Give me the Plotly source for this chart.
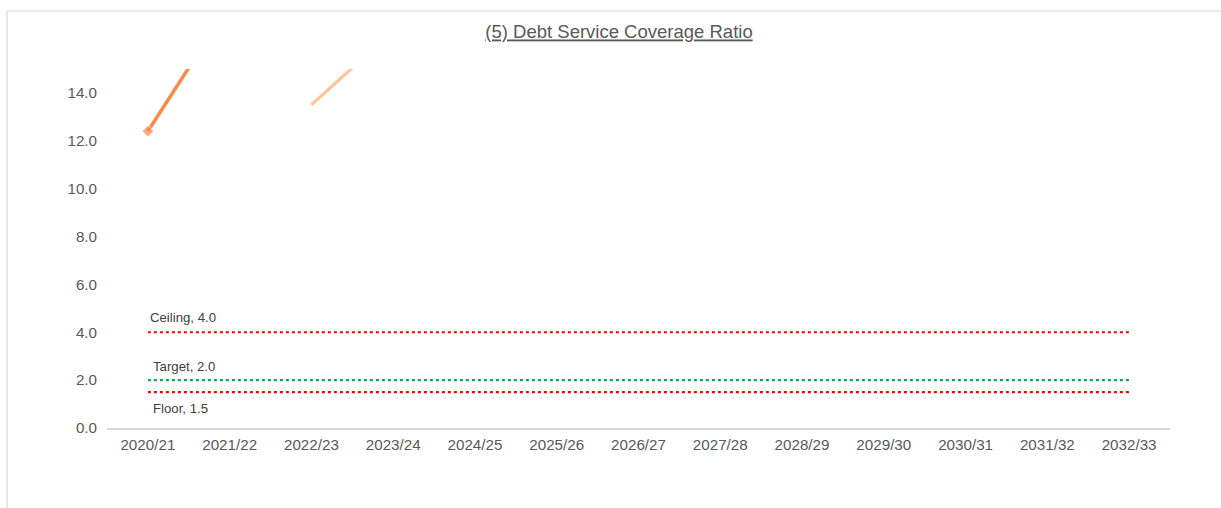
import plotly.graph_objects as go

years = ["2020/21", "2021/22", "2022/23", "2023/24", "2024/25", "2025/26", "2026/27",
         "2027/28", "2028/29", "2029/30", "2030/31", "2031/32", "2032/33"]
dscr_actual = [12.4, 17.7, None, None, None, None, None, None, None, None, None, None, None]
dscr_forecast = [None, None, 13.5, 16.6, None, None, None, None, None, None, None, None, None]
ceiling = [4.0] * len(years)
target = [2.0] * len(years)
floor = [1.5] * len(years)

W, H = 1221, 508
L, R, T, B = 107, 51, 69, 80
pw, ph = W - L - R, H - T - B

fig = go.Figure()
fig.add_trace(go.Scatter(x=years, y=ceiling, mode="lines", line=dict(color="#FF0000", width=2.2, dash="dot"), hoverinfo="skip"))
fig.add_trace(go.Scatter(x=years, y=target, mode="lines", line=dict(color="#00B050", width=2.2, dash="dot"), hoverinfo="skip"))
fig.add_trace(go.Scatter(x=years, y=floor, mode="lines", line=dict(color="#FF0000", width=2.2, dash="dot"), hoverinfo="skip"))
fig.add_trace(go.Scatter(x=years, y=dscr_forecast, mode="lines", line=dict(color="#FDC593", width=3.2), connectgaps=False))
fig.add_trace(go.Scatter(x=years, y=dscr_actual, mode="lines+markers", line=dict(color="#F68A4A", width=3.5),
                         marker=dict(symbol="diamond", size=[9] + [0] * (len(years) - 1), color="#F68A4A"),
                         connectgaps=False, cliponaxis=True))

lab_font = dict(family="Liberation Sans, Arial, sans-serif", size=13.2, color="#404040")
fig.add_annotation(x=years[0], y=ceiling[0], text="Ceiling, 4.0", showarrow=False, xanchor="left", yanchor="middle",
                   xshift=0, yshift=15, font=lab_font)
fig.add_annotation(x=years[0], y=target[0], text="Target, 2.0", showarrow=False, xanchor="left", yanchor="middle",
                   xshift=3, yshift=14, font=lab_font)
fig.add_annotation(x=years[0], y=floor[0], text="Floor, 1.5", showarrow=False, xanchor="left", yanchor="middle",
                   xshift=3, yshift=-16, font=lab_font)

# outer border
fig.add_shape(type="rect", xref="paper", yref="paper",
              x0=(7 - L) / pw, x1=(W + 10 - L) / pw,
              y0=-(H + 10 - (H - B)) / ph, y1=((H - B) - 11) / ph,
              line=dict(color="#D9D9D9", width=1.2), fillcolor="rgba(0,0,0,0)", layer="below")

fig.update_layout(
    width=W, height=H,
    margin=dict(l=L, r=R, t=T, b=B, autoexpand=False),
    paper_bgcolor="white", plot_bgcolor="white",
    showlegend=False,
    font=dict(family="Liberation Sans, Arial, sans-serif", color="#595959"),
    title=dict(text="<u>(5) Debt Service Coverage Ratio</u>", xref="container", yref="container",
               x=619 / W, y=1 - 32 / H, xanchor="center", yanchor="middle",
               font=dict(size=18.5, color="#595959", family="Liberation Sans, Arial, sans-serif")),
    xaxis=dict(type="category", range=[-0.5, len(years) - 0.5], autorange=False, automargin=False,
               showgrid=False, showline=True, linecolor="#D9D9D9", linewidth=1.5, ticklabelstandoff=2,
               ticks="", tickfont=dict(size=15.2, color="#595959"), zeroline=False),
    yaxis=dict(range=[0, 15], autorange=False, automargin=False, dtick=2, tick0=0, tickformat=".1f",
               showgrid=False, showline=False, ticklabelstandoff=9,
               zeroline=False, ticks="", tickfont=dict(size=15.2, color="#595959")),
)

fig.write_html("out.html")
